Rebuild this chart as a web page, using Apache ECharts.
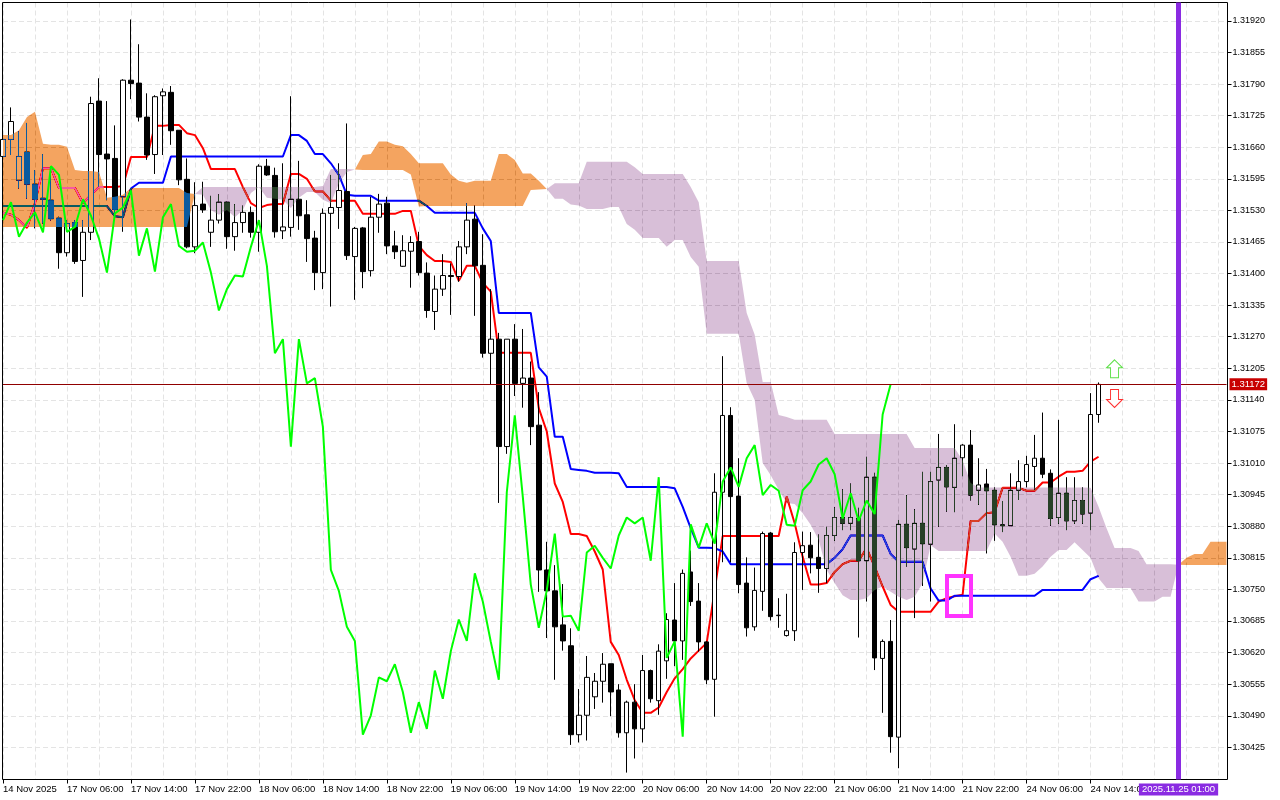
<!DOCTYPE html>
<html><head><meta charset="utf-8"><title>GBP chart</title>
<script src="https://cdn.jsdelivr.net/npm/echarts@6/dist/echarts.min.js"></script>
<style>html,body{margin:0;padding:0;background:#fff}#c{width:1280px;height:800px}</style></head>
<body><div id="c"></div>
<script>
// All prices are in points of 0.00001
const timeLabels=['14 Nov 2025','17 Nov 06:00','17 Nov 14:00','17 Nov 22:00','18 Nov 06:00','18 Nov 14:00','18 Nov 22:00','19 Nov 06:00','19 Nov 14:00','19 Nov 22:00','20 Nov 06:00','20 Nov 14:00','20 Nov 22:00','21 Nov 06:00','21 Nov 14:00','21 Nov 22:00','24 Nov 06:00','24 Nov 14:00'];
const priceTicks=[130425,130490,130555,130620,130685,130750,130815,130880,130945,131010,131075,131140,131205,131270,131335,131400,131465,131530,131595,131660,131725,131790,131855,131920];
const open=[131641,131676,131592,131650,131584,131555,131551,131514,131443,131505,
131427,131485,131755,131646,131637,131558,131798,131792,131722,131645,
131766,131773,131695,131594,131455,131543,131485,131510,131547,131476,
131505,131526,131485,131621,131602,131488,131495,131553,131521,131473,
131402,131524,131536,131569,131435,131494,131406,131516,131545,131457,
131415,131446,131466,131401,131322,131368,131396,131394,131455,131512,
131417,131236,131265,131044,131265,131174,131185,131088,130790,130747,
130677,130634,130451,130491,130529,130561,130597,130543,130455,130518,
130463,130583,130521,130603,130687,130644,130786,130726,130642,130565,
130950,131108,130942,130763,130673,130746,130866,130697,130655,130665,
130826,130841,130816,130793,130861,130898,130886,130896,130809,130981,
130608,130643,130446,130884,130833,130886,130843,130975,131001,130960,
131021,131047,130954,130967,130954,130883,130881,130954,130972,131003,
131020,130989,130898,130948,130891,130933,130907,131110];
const close=[131676,131713,131641,131584,131553,131553,131513,131443,131503,131425,
131485,131750,131645,131636,131532,131798,131791,131722,131644,131764,
131774,131694,131593,131455,131540,131531,131510,131547,131476,131505,
131526,131485,131621,131603,131486,131496,131553,131519,131472,131402,
131524,131536,131571,131437,131493,131404,131516,131543,131457,131445,
131447,131464,131402,131324,131368,131396,131394,131455,131510,131416,
131236,131265,131044,131265,131174,131185,131085,130790,130747,130673,
130644,130451,130491,130569,130561,130596,130539,130455,130518,130463,
130583,130525,130623,130688,130644,130783,130725,130642,130564,130950,
131108,130941,130760,130671,130748,130865,130694,130696,130665,130826,
130840,130815,130793,130861,130898,130886,130898,130809,130981,130609,
130643,130447,130884,130836,130886,130844,130972,131001,130961,131020,
131047,130944,130965,130953,130883,130881,130954,130972,131007,131020,
130987,130896,130948,130891,130933,130905,131110,131172];
const low=[131623,131644,131575,131554,131493,131503,131509,131410,131435,131420,
131352,131469,131579,131551,131514,131486,131759,131713,131634,131605,
131644,131665,131582,131452,131442,131525,131455,131503,131451,131447,
131484,131474,131445,131601,131474,131471,131476,131490,131424,131366,
131368,131332,131492,131428,131346,131370,131394,131484,131440,131430,
131414,131371,131396,131309,131284,131354,131315,131383,131440,131313,
131227,131171,130928,131029,131148,131124,131047,130745,130650,130564,
130624,130430,130435,130439,130504,130517,130489,130445,130373,130402,
130435,130517,130492,130566,130592,130605,130716,130622,130555,130488,
130806,130806,130742,130653,130665,130706,130686,130671,130653,130644,
130749,130783,130743,130763,130850,130872,130872,130651,130725,130584,
130496,130414,130382,130797,130691,130757,130725,130879,130910,130909,
130983,130933,130924,130824,130850,130868,130881,130934,130960,130955,
130979,130881,130885,130872,130885,130885,130872,131093];
const high=[131695,131742,131693,131710,131613,131646,131620,131517,131510,131510,
131510,131764,131802,131755,131705,131800,131923,131872,131771,131767,
131781,131786,131695,131637,131588,131589,131560,131563,131548,131543,
131540,131538,131625,131636,131618,131627,131765,131632,131551,131488,
131534,131603,131627,131709,131496,131496,131558,131564,131558,131488,
131479,131477,131486,131423,131396,131440,131421,131467,131545,131540,
131481,131368,131278,131265,131296,131286,131219,131156,130848,130800,
130761,130670,130545,130613,130578,130619,130597,130555,130521,130555,
130615,130585,130637,130701,130763,130791,130830,130763,130644,130989,
131230,131125,131020,130816,130795,130869,130868,130732,130741,130847,
130869,130868,130863,130879,130919,130956,130968,130918,131023,130990,
130647,130687,130893,130944,130915,130992,130992,131070,131006,131090,
131049,131078,131020,130998,130960,130932,130989,131016,131025,131068,
131114,130997,131099,130981,130981,130960,131154,131176];
const tenkan=[131525,131521,131510,131494,131545,131617,131617,131576,131576,131576,
131545,131562,131578,131578,131578,131580,131640,131640,131640,131704,
131704,131706,131706,131689,131685,131658,131615,131615,131615,131615,
131578,131545,131535,131541,131543,131543,131605,131605,131595,131569,
131569,131550,131550,131550,131550,131523,131523,131523,131523,131523,
131529,131529,131457,131438,131426,131426,131424,131385,131416,131416,
131381,131363,131237,131237,131237,131237,131237,131123,131075,130968,
130930,130864,130864,130860,130828,130791,130642,130615,130564,130522,
130496,130496,130507,130539,130567,130586,130608,130624,130640,130749,
130860,130860,130860,130860,130860,130860,130860,130860,130941,130886,
130817,130760,130760,130763,130786,130802,130809,130809,130835,130797,
130756,130718,130704,130704,130704,130704,130704,130725,130732,130736,
130739,130891,130891,130907,130909,130959,130959,130959,130953,130953,
130970,130970,130982,130992,130992,130994,131013,131023];
const kijun=[131539,131539,131539,131539,131539,131539,131539,131539,131539,131539,
131539,131539,131539,131539,131518,131516,131575,131587,131587,131587,
131587,131641,131641,131641,131641,131641,131641,131641,131641,131641,
131641,131641,131641,131641,131641,131641,131685,131685,131673,131646,
131646,131627,131603,131562,131560,131560,131560,131550,131550,131550,
131550,131550,131550,131539,131525,131525,131525,131525,131525,131525,
131493,131467,131319,131319,131319,131319,131319,131207,131188,131064,
131064,130998,130996,130994,130990,130990,130990,130989,130961,130961,
130961,130961,130961,130961,130958,130920,130876,130836,130836,130835,
130828,130802,130802,130802,130802,130802,130802,130802,130802,130802,
130802,130802,130802,130802,130815,130833,130861,130861,130861,130861,
130861,130823,130807,130807,130807,130807,130752,130727,130727,130737,
130737,130737,130737,130737,130737,130737,130737,130737,130737,130737,
130749,130749,130749,130749,130749,130749,130771,130778];
const chikou=[131510,131547,131476,131505,131526,131485,131621,131603,131486,131496,
131553,131519,131472,131402,131524,131536,131571,131437,131493,131404,
131516,131543,131457,131445,131447,131464,131402,131324,131368,131396,
131394,131455,131510,131416,131236,131265,131044,131265,131174,131185,
131085,130790,130747,130673,130644,130451,130491,130569,130561,130596,
130539,130455,130518,130463,130583,130525,130623,130688,130644,130783,
130725,130642,130564,130950,131108,130941,130760,130671,130748,130865,
130694,130696,130665,130826,130840,130815,130793,130861,130898,130886,
130898,130809,130981,130609,130643,130447,130884,130836,130886,130844,
130972,131001,130961,131020,131047,130944,130965,130953,130883,130881,
130954,130972,131007,131020,130987,130896,130948,130891,130933,130905,
131110,131172];
const spanA=[131685,131685,131695,131722,131733,131667,131665,131665,131661,131613,131611,131611,131609,131556,131558,131562,131576,131576,131576,131576,131576,131576,131576,131566,131564,
131562,131531,131521,131531,131516,131531,131566,131578,131556,131554,131552,131535,131556,131568,131568,131552,131545,131586,131609,131614,
131644,131646,131672,131672,131665,131662,131646,131627,131627,131627,131627,131604,131591,131587,131591,131591,131591,131646,131646,131634,131606,131606,131591,131574,
131554,131554,131542,131540,131533,131533,131533,131537,131537,131502,131490,131473,131473,131473,131455,131469,131469,131434,131414,131276,131276,131276,131276,131276,131175,131140,131010,130985,130955,130928,130926,130907,130883,130852,130790,130763,130738,130728,130728,130732,130749,130756,130745,130735,130728,130735,130763,130841,130829,130829,130829,130829,130829,130829,130829,130865,130848,130817,130778,130778,130782,130797,130817,130831,130831,130847,130831,130815,130773,130753,130753,130753,130753,130725,130725,130725,130735,130735,130801,
130815,130823,130823,130848,130848,130848];
const spanB=[131496,131496,131496,131496,131496,131496,131496,131496,131496,131496,131496,131496,131496,131496,131496,131496,131496,131496,131496,131496,131496,131496,131496,131496,131564,
131578,131578,131578,131578,131578,131578,131578,131578,131578,131578,131578,131578,131578,131578,131578,131580,131615,131615,131615,131614,
131613,131613,131613,131613,131613,131613,131604,131538,131539,131539,131539,131539,131539,131539,131539,131539,131539,131539,131539,131539,131539,131572,131573,131574,
131586,131586,131586,131586,131630,131630,131630,131630,131630,131630,131619,131605,131605,131605,131605,131605,131605,131578,131547,131426,131426,131426,131426,131426,131319,131274,131177,131177,131109,131105,131099,131099,131099,131099,131099,131070,131070,131070,131070,131070,131070,131070,131070,131070,131070,131041,131041,131041,131041,131041,131041,131016,130969,130960,130960,130960,130960,130960,130960,130960,130960,130960,130960,130960,130960,130960,130960,130959,130920,130876,130835,130835,130835,130829,130802,130802,130802,130802,130801,
130800,130800,130800,130800,130800,130800];
const currentPrice=131172, signalUp=[139,131204], signalDown=[139,131143];
const highlightBox=[118,121,130778,130695];
const verticalIndex=147, slotCount=154;

const categories=[];for(let i=0;i<slotCount;i++)categories.push(String(i));
const runs=[];let st=0;
for(let i=1;i<slotCount;i++){if(spanA[i]===spanB[i]||i===slotCount-1){runs.push([st,i]);st=i;}}
const font='"Liberation Sans",Arial,sans-serif';
const chart=echarts.init(document.getElementById('c'),null,{renderer:'canvas',width:1280,height:800});
const upPath='path://M8,0 L16,8 L12,8 L12,18 L4,18 L4,8 L0,8 Z', downPath='path://M4,0 L12,0 L12,10 L16,10 L8,18 L0,10 L4,10 Z';
chart.setOption({
 animation:false,backgroundColor:'#ffffff',
 grid:{left:2.5,top:2.5,width:1224,height:777,show:false},
 xAxis:{type:'category',boundaryGap:false,data:categories,position:'bottom',
  axisLine:{show:false},
  axisTick:{show:true,length:4,lineStyle:{color:'#000'},interval:i=>i%8===0&&i/8<timeLabels.length},
  axisLabel:{show:true,align:'left',margin:5,fontFamily:font,fontSize:9.5,color:'#000',hideOverlap:false,
   interval:i=>i%8===0&&i/8<timeLabels.length,formatter:(v,i)=>timeLabels[i/8]},
  splitLine:{show:true,interval:i=>i%4===0,lineStyle:{color:'#e4e4e4',type:[5,3],width:1}}},
 yAxis:{type:'value',position:'right',offset:1,min:130358.8,max:131957.9,scale:true,
  axisLine:{show:false},
  axisTick:{show:true,length:4,customValues:priceTicks,lineStyle:{color:'#000'}},
  axisLabel:{show:true,margin:5,fontFamily:font,fontSize:9,color:'#000',customValues:priceTicks,
   formatter:v=>(v/1e5).toFixed(5)},
  splitLine:{show:true,lineStyle:{color:'#e4e4e4',type:[5,3],width:1}}},
 graphic:[{type:'rect',silent:true,z:1,shape:{x:2.5,y:2.5,width:1225,height:777},style:{fill:'none',stroke:'#000',lineWidth:1}}],
 series:[
  {type:'candlestick',z:2,barWidth:5,silent:true,
   data:open.map((o,i)=>[o,close[i],low[i],high[i]]),
   itemStyle:{color:'#ffffff',color0:'#000000',borderColor:'#000000',borderColor0:'#000000',borderWidth:1},
   markLine:{silent:true,symbol:'none',animation:false,data:[{yAxis:currentPrice}],
    lineStyle:{color:'#900000',width:1,type:'solid'},
    label:{show:true,position:'end',distance:3,padding:[1,2],fontFamily:font,fontSize:9.5,color:'#fff',backgroundColor:'#c80000',formatter:()=>(currentPrice/1e5).toFixed(5)}}},
  {type:'line',z:2,name:'Tenkan',data:tenkan,symbol:'none',silent:true,lineStyle:{color:'#ff0000',width:2}},
  {type:'line',z:2,name:'Kijun',data:kijun,symbol:'none',silent:true,lineStyle:{color:'#0000ff',width:2}},
  {type:'custom',z:3,name:'Kumo',coordinateSystem:'cartesian2d',silent:true,blendMode:'difference',clip:true,
   data:runs.map(r=>[r[0],r[1]]),
   renderItem:(p,api)=>{
    const r=runs[p.dataIndex],pts=[];
    for(let i=r[0];i<=r[1];i++)pts.push(api.coord([i,spanA[i]]));
    for(let i=r[1];i>=r[0];i--)pts.push(api.coord([i,spanB[i]]));
    const bull=spanA[r[0]+1]>spanB[r[0]+1];
    return {type:'polygon',shape:{points:pts},style:{fill:bull?'rgb(11,91,159)':'rgb(39,64,39)',stroke:null,blend:'difference'}};
   }},
  {type:'line',z:4,name:'Chikou',data:chikou,symbol:'none',silent:true,lineStyle:{color:'#00ff00',width:2}},
  {type:'custom',z:5,name:'Box',coordinateSystem:'cartesian2d',silent:true,clip:false,
   data:[highlightBox],
   renderItem:(p,api)=>{
    const a=api.coord([highlightBox[0],highlightBox[2]]),b=api.coord([highlightBox[1],highlightBox[3]]);
    const x=Math.round(a[0]),y=Math.round(a[1]);
    return {type:'rect',shape:{x:x,y:y,width:Math.round(b[0])-x,height:Math.round(b[1])-y},style:{fill:'none',stroke:'#ff33ff',lineWidth:4}};
   }},
  {type:'scatter',z:6,name:'Up',silent:true,data:[signalUp],symbol:upPath,symbolSize:[16,18],
   itemStyle:{color:'#ffffff',borderColor:'#5fe04a',borderWidth:1,opacity:1}},
  {type:'scatter',z:6,name:'Down',silent:true,data:[signalDown],symbol:downPath,symbolSize:[16,18],
   itemStyle:{color:'#ffffff',borderColor:'#ff3030',borderWidth:1,opacity:1},
   markLine:{silent:true,symbol:'none',animation:false,data:[{xAxis:verticalIndex}],
    lineStyle:{color:'#8a2be2',width:5,type:'solid'},
    label:{show:true,position:'start',distance:4,padding:[1,3],fontFamily:font,fontSize:9.5,color:'#fff',backgroundColor:'#8a2be2',formatter:'2025.11.25 01:00'}}}
 ]
});
</script></body></html>
